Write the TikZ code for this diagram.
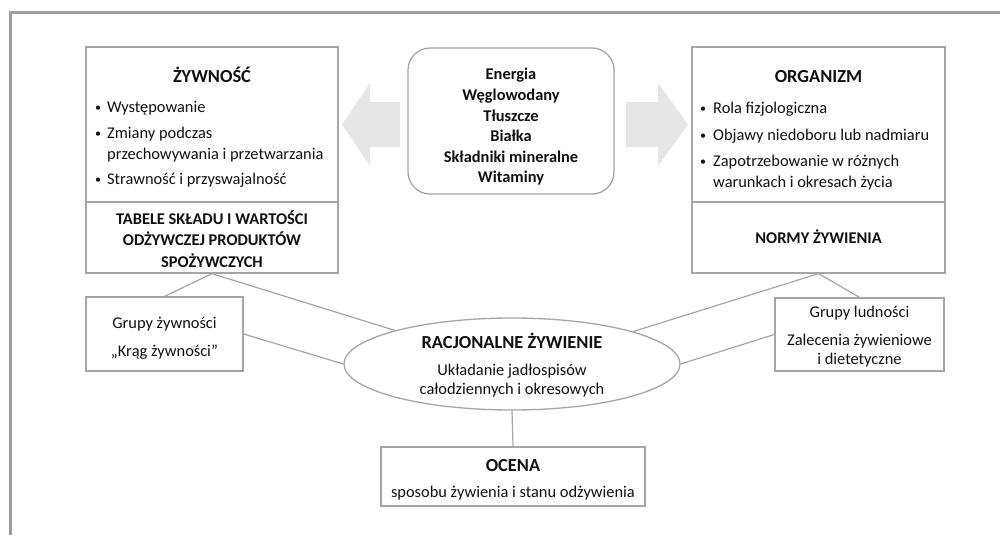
\documentclass[tikz,border=0pt]{standalone}
\usepackage{fontspec}
\setmainfont{Carlito}
\usetikzlibrary{shapes.geometric}
\definecolor{framegray}{HTML}{9E9E9E}
\definecolor{boxline}{HTML}{A6A6A6}
\definecolor{arrowfill}{HTML}{E6E6E6}
\definecolor{txt}{HTML}{111111}
\begin{document}
\begin{tikzpicture}[x=1pt,y=-1pt,
  boxstyle/.style={draw=boxline, line width=1.3pt, inner sep=0pt, fill=white},
  conn/.style={draw=boxline, line width=1.2pt},
  divider/.style={draw=boxline, line width=1.3pt},
  body/.style={font=\fontsize{16.4}{20.6}\selectfont, text=txt, anchor=base, inner sep=0pt},
  bodyL/.style={body, anchor=base west},
  bulletdot/.style={body, font=\fontsize{12}{14}\selectfont},
  bodybold/.style={body, font=\fontsize{16.4}{20.6}\selectfont\bfseries},
  titletext/.style={body, font=\fontsize{18.4}{22}\selectfont\bfseries},
]
\useasboundingbox (0,0) rectangle (1000,535);
% frame
\draw[framegray, line width=3pt] (10,535) -- (10,13) -- (1000,13);

% arrows
\fill[arrowfill] (342,124.5) -- (370,83) -- (370,102) -- (400,102) -- (400,147) -- (370,147) -- (370,166) -- cycle;
\fill[arrowfill] (688,124.5) -- (658,83) -- (658,102) -- (626,102) -- (626,147) -- (658,147) -- (658,166) -- cycle;

% boxes
\node[boxstyle, minimum width=252pt, minimum height=226pt] (food) at (212,160) {};
\node[boxstyle, minimum width=253pt, minimum height=226pt] (org) at (818.5,160) {};
\node[boxstyle, rounded corners=22pt, minimum width=206pt, minimum height=146pt] (nutr) at (511,121) {};
\node[boxstyle, minimum width=157pt, minimum height=74pt] (gz) at (164.5,334) {};
\node[boxstyle, minimum width=169pt, minimum height=73pt] (gl) at (859.5,334.5) {};
\node[boxstyle, ellipse, minimum width=336pt, minimum height=92pt] (rz) at (512,364) {};
\node[boxstyle, minimum width=264pt, minimum height=59pt] (oc) at (513,476.5) {};

\draw[divider] (86,202) -- (338,202);
\draw[divider] (692,202) -- (945,202);

% connectors
\draw[conn] (food.south) -- (gz.north);
\draw[conn] (food.south) -- (rz.164.6);
\draw[conn] (gz.east) -- (rz.west);
\draw[conn] (org.south) -- (rz.15.4);
\draw[conn] (org.south) -- (gl.north);
\draw[conn] (gl.west) -- (rz.east);
\draw[conn] (rz.south) -- (oc.north);

% food box text
\node[titletext] (foodT) at (212,82) {ŻYWNOŚĆ};
\node[bulletdot] (fbA) at (98,111) {•};
\node[bodyL] (fA) at (107,112) {Występowanie};
\node[bulletdot] (fbB) at (98,137) {•};
\node[bodyL] (fB) at (107,138) {Zmiany podczas};
\node[bodyL] (fC) at (107,159) {przechowywania i przetwarzania};
\node[bulletdot] (fbD) at (98,183) {•};
\node[bodyL] (fD) at (107,184) {Strawność i przyswajalność};
\node[bodybold] (tabA) at (212,224) {TABELE SKŁADU I WARTOŚCI};
\node[bodybold] (tabB) at (212,245) {ODŻYWCZEJ PRODUKTÓW};
\node[bodybold] (tabC) at (212,267) {SPOŻYWCZYCH};

% nutrients
\node[bodybold, anchor=center, align=center] (nutrT) at (511,127) {Energia\\Węglowodany\\Tłuszcze\\Białka\\Składniki mineralne\\Witaminy};

% organism box text
\node[titletext] (orgT) at (818.5,82) {ORGANIZM};
\node[bulletdot] (obA) at (703,112) {•};
\node[bodyL] (oA) at (713,113) {Rola fizjologiczna};
\node[bulletdot] (obB) at (703,139) {•};
\node[bodyL] (oB) at (713,140) {Objawy niedoboru lub nadmiaru};
\node[bulletdot] (obC) at (703,165) {•};
\node[bodyL] (oC) at (713,166) {Zapotrzebowanie w różnych};
\node[bodyL] (oD) at (713,187) {warunkach i okresach życia};
\node[bodybold] (norm) at (818.5,243) {NORMY ŻYWIENIA};

% side boxes
\node[body] (gzA) at (164.5,328) {Grupy żywności};
\node[body] (gzB) at (164.5,356) {„Krąg żywności”};
\node[body] (glA) at (859.5,317) {Grupy ludności};
\node[body] (glB) at (859.5,345) {Zalecenia żywieniowe};
\node[body] (glC) at (859.5,364) {i dietetyczne};

% ellipse text
\node[titletext] (rzT) at (512,348) {RACJONALNE ŻYWIENIE};
\node[body] (rzA) at (512,375) {Układanie jadłospisów};
\node[body] (rzB) at (512,394) {całodziennych i okresowych};

% ocena
\node[titletext] (ocT) at (513,471) {OCENA};
\node[body] (ocA) at (513,497) {sposobu żywienia i stanu odżywienia};
\end{tikzpicture}
\end{document}
